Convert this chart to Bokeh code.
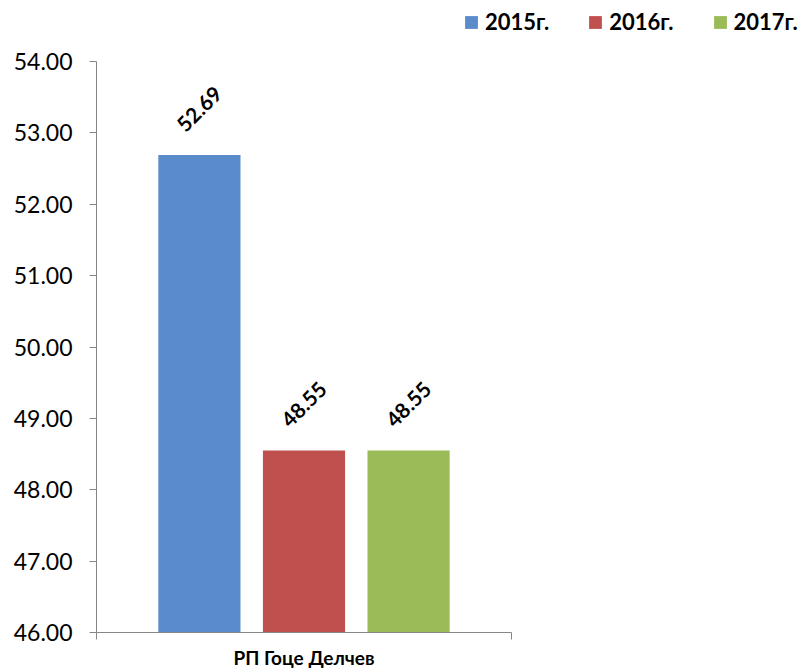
from bokeh.plotting import figure
from bokeh.models import (Range1d, LinearAxis, FixedTicker,
                          PrintfTickFormatter, Legend, LegendItem, ColumnDataSource)
from bokeh.transform import dodge
from bokeh.core.properties import value
from bokeh.embed import file_html
from bokeh.resources import INLINE
import math

categories = ["РП Гоце Делчев"]
years = ["2015г.", "2016г.", "2017г."]
values_2015 = [52.69]
values_2016 = [48.55]
values_2017 = [48.55]
y_ticks = [46, 47, 48, 49, 50, 51, 52, 53, 54]

series = [values_2015, values_2016, values_2017]
colors = ["#5A8BCB", "#C0504D", "#9BBB59"]
offsets = [-0.252, 0.0, 0.252]
bar_width = 0.198
FONT = "Lato"
AXIS_COLOR = "#868686"

cat_pos = list(range(len(categories)))

# layout in pixels: the plotting area (axes) is 415 x 571 px, left at 96, top at 61;
# the frame is extended right/up so that the legend can sit inside it.
AX_W, AX_H, AX_TOP, EXTRA_R = 415, 571, 61, 290
x0, x1 = cat_pos[0] - 0.5, cat_pos[-1] + 0.5
y0, y1 = y_ticks[0], y_ticks[-1]
x_end = x1 + EXTRA_R * (x1 - x0) / AX_W
y_end = y1 + AX_TOP * (y1 - y0) / AX_H

p = figure(x_range=Range1d(x0, x_end), y_range=Range1d(y0, y_end),
           frame_width=AX_W + EXTRA_R, frame_height=AX_H + AX_TOP,
           min_border_left=96, min_border_right=0, min_border_top=0, min_border_bottom=30,
           output_backend="svg", toolbar_location=None,
           x_axis_location=None, y_axis_location="left")
p.outline_line_color = None
p.xgrid.grid_line_color = None
p.ygrid.grid_line_color = None
p.background_fill_color = "white"
p.border_fill_color = "white"

# y axis
ya = p.yaxis[0]
ya.bounds = (y0, y1)
ya.ticker = FixedTicker(ticks=y_ticks)
ya.formatter = PrintfTickFormatter(format="%.2f")
ya.axis_line_color = AXIS_COLOR
ya.major_tick_line_color = AXIS_COLOR
ya.major_tick_out = 7
ya.major_tick_in = 0
ya.minor_tick_line_color = None
ya.major_label_text_font = FONT
ya.major_label_text_font_size = "23px"
ya.major_label_text_color = "black"
ya.major_label_standoff = 17

# bottom axis line with ticks at the category edges
edges = [c - 0.5 for c in cat_pos] + [cat_pos[-1] + 0.5]
ea = LinearAxis(ticker=FixedTicker(ticks=edges), bounds=(x0, x1),
                major_label_overrides={e: "" for e in edges})
ea.axis_line_color = AXIS_COLOR
ea.major_tick_line_color = AXIS_COLOR
ea.major_tick_out = 7
ea.major_tick_in = 0
ea.minor_tick_line_color = None
ea.major_label_text_font_size = "1px"
ea.major_label_standoff = 0
p.add_layout(ea, "below")

# category label axis
ca = LinearAxis(ticker=FixedTicker(ticks=cat_pos), bounds=(x0, x1),
                major_label_overrides={c: n for c, n in zip(cat_pos, categories)})
ca.axis_line_color = None
ca.major_tick_line_color = None
ca.major_tick_out = 0
ca.major_tick_in = 0
ca.minor_tick_line_color = None
ca.major_label_text_font = FONT
ca.major_label_text_font_style = "bold"
ca.major_label_text_font_size = "19px"
ca.major_label_text_color = "black"
ca.major_label_standoff = 6
p.add_layout(ca, "below")

items = []
for yr, vals, col, off in zip(years, series, colors, offsets):
    src = ColumnDataSource(dict(x=cat_pos, v=vals, lbl=["%.2f" % v for v in vals]))
    r = p.vbar(x=dodge("x", off), top="v", bottom=y0,
               width=bar_width, source=src, fill_color=col, line_color=None)
    p.text(x=dodge("x", off), y="v", text="lbl", source=src,
           angle=math.pi / 4, text_align="center", text_baseline="middle",
           y_offset=-46, text_font=value(FONT), text_font_style="bold",
           text_font_size="21px", text_color="black")
    items.append(LegendItem(label=yr, renderers=[r]))

legend = Legend(items=items, orientation="horizontal", location=(367, 597))
legend.border_line_color = None
legend.background_fill_alpha = 0
legend.padding = 0
legend.margin = 0
legend.spacing = 38
legend.glyph_width = 16
legend.glyph_height = 16
legend.label_standoff = 6
legend.label_text_font = FONT
legend.label_text_font_style = "bold"
legend.label_text_font_size = "22px"
legend.label_text_color = "black"
p.add_layout(legend, "center")

open("out.html", "w").write(file_html(p, INLINE))
